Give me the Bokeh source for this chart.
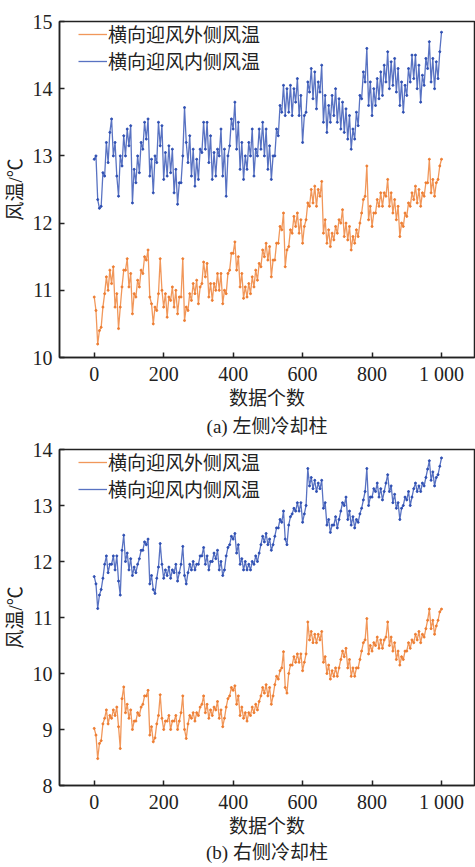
from bokeh.plotting import figure
from bokeh.models import Legend, LegendItem, Title, FixedTicker, Range1d
from bokeh.layouts import column
from bokeh.embed import file_html
from bokeh.resources import INLINE

# Values every 5 samples (band lows / highs), 0..1000
# ---- panel (a) 左侧冷却柱 ----
a_out = [10.9,10.7,10.2,10.4,10.45,10.75,10.95,11.2,11.0,11.3,11.1,11.35,10.75,10.95,10.43,10.75,11.05,11.3,11.3,11.47,
         11.05,11.25,10.65,10.95,10.9,11.15,11.05,11.3,11.25,11.5,11.45,11.6,10.9,10.8,10.5,10.75,10.7,10.95,11.47,11.0,
         10.75,10.95,10.6,10.9,10.85,11.05,10.75,11.0,10.65,10.9,10.9,11.47,10.55,10.75,10.7,10.95,10.85,11.1,10.95,11.15,
         10.8,11.05,11.1,11.42,11.2,11.4,10.9,11.1,10.85,11.1,11.0,11.25,11.0,11.25,10.8,11.0,10.95,11.25,11.3,11.55,
         11.55,11.72,11.3,11.5,11.05,11.25,10.88,11.05,10.9,11.1,10.95,11.2,11.05,11.3,11.15,11.4,11.35,11.6,11.5,11.7,
         11.45,11.65,11.2,11.45,11.45,11.7,11.7,11.95,11.9,12.15,11.35,11.6,11.65,11.9,11.85,12.1,11.95,12.15,11.85,12.05,
         11.7,11.95,12.05,12.3,12.25,12.5,12.3,12.55,12.25,12.5,12.4,12.62,11.85,12.05,11.7,11.9,11.65,11.85,11.75,11.95,
         11.85,12.05,12.0,12.2,11.8,12.0,11.75,11.95,11.6,11.8,11.7,11.9,11.8,12.0,12.15,12.35,12.4,12.85,12.05,12.25,
         11.95,12.15,12.15,12.35,12.25,12.45,12.25,12.45,12.4,12.65,12.25,12.45,12.15,12.35,12.05,12.25,11.8,12.0,11.95,12.15,
         12.1,12.3,12.25,12.45,12.35,12.55,12.3,12.5,12.25,12.45,12.4,12.6,12.6,12.95,12.45,12.65,12.4,12.6,12.65,12.85,
         12.95]
a_in = [12.95,13.0,12.35,12.22,12.25,12.75,12.7,13.2,12.9,13.35,13.55,13.0,13.2,12.7,12.4,13.0,12.85,13.3,13.0,13.4,
        13.15,13.45,12.3,12.8,12.6,13.0,12.75,13.2,13.1,13.5,13.25,13.55,12.7,12.95,12.45,13.0,12.9,13.5,13.15,13.45,
        12.65,13.05,12.7,13.15,12.75,13.1,12.45,12.8,12.28,12.6,12.6,13.0,13.72,13.2,12.9,13.3,12.7,13.1,12.55,12.95,
        12.65,13.1,13.05,13.5,13.1,13.5,12.9,13.3,12.65,13.05,12.7,13.1,13.0,13.4,12.7,13.1,12.4,13.0,13.15,13.55,
        13.4,13.8,13.1,13.5,12.8,13.2,12.65,13.0,12.8,13.2,13.0,13.4,12.7,13.1,13.0,13.4,13.1,13.5,13.0,13.4,
        12.8,13.15,12.65,13.0,13.0,13.4,13.3,13.75,13.65,14.05,13.6,14.0,13.65,14.05,13.6,14.0,13.8,14.15,13.6,13.9,
        13.2,13.6,13.65,14.1,13.95,14.3,13.85,14.25,13.7,14.1,13.95,14.35,13.5,13.9,13.35,13.75,13.5,13.9,13.6,14.0,
        13.5,13.85,13.4,13.8,13.35,13.7,13.25,13.6,13.1,13.4,13.25,13.65,13.45,13.9,13.85,14.25,14.1,14.6,13.75,14.1,
        13.6,14.0,13.75,14.15,13.85,14.25,13.9,14.35,14.1,14.55,14.0,14.4,14.05,14.45,13.95,14.3,13.75,14.1,13.65,14.05,
        13.9,14.3,14.1,14.5,14.15,14.5,14.0,14.35,13.8,14.2,14.05,14.45,14.3,14.7,14.1,14.45,14.0,14.4,14.15,14.55,
        14.84]

# ---- panel (b) 右侧冷却柱 ----
b_out = [9.02,8.9,8.48,8.75,8.8,9.1,9.2,9.35,9.1,9.25,9.2,9.35,9.25,9.4,9.05,8.66,9.55,9.76,9.3,9.45,
         9.2,9.35,9.0,9.15,9.15,9.3,9.25,9.4,9.45,9.6,9.6,9.7,8.9,9.05,8.78,8.85,9.1,9.25,9.62,9.2,
         9.0,9.15,9.15,9.25,9.0,9.15,9.15,9.25,9.0,9.15,9.3,9.6,9.0,8.84,9.1,9.25,9.2,9.3,9.15,9.3,
         9.25,9.4,9.45,9.6,9.3,9.45,9.2,9.35,9.25,9.4,9.35,9.5,9.2,9.35,9.05,9.2,9.4,9.55,9.6,9.75,
         9.7,9.78,9.45,9.6,9.25,9.4,9.2,9.3,9.15,9.3,9.25,9.4,9.3,9.45,9.35,9.5,9.6,9.75,9.65,9.8,
         9.6,9.75,9.45,9.6,9.8,9.95,9.9,10.05,10.1,10.39,9.75,9.65,10.0,10.15,10.15,10.3,10.2,10.35,10.2,10.35,
         10.05,10.2,10.35,10.92,10.6,10.75,10.55,10.7,10.55,10.7,10.6,10.75,10.2,10.3,10.0,10.15,9.9,10.05,9.95,10.1,
         9.95,10.1,10.25,10.4,10.3,10.45,10.1,10.25,9.95,10.1,9.95,10.1,10.1,10.25,10.4,10.55,10.6,10.98,10.35,10.5,
         10.4,10.55,10.5,10.65,10.45,10.6,10.45,10.6,10.65,10.92,10.5,10.65,10.4,10.55,10.25,10.4,10.15,10.3,10.25,10.4,
         10.4,10.55,10.45,10.6,10.55,10.7,10.6,10.75,10.55,10.7,10.65,10.8,10.95,11.15,10.8,10.95,10.7,10.85,10.95,11.1,
         11.15]
b_in = [11.73,11.6,11.16,11.4,11.5,11.7,11.95,12.1,11.8,11.95,11.95,12.1,11.85,12.1,11.65,11.4,12.2,12.47,12.0,12.15,
        11.85,12.05,11.75,11.9,11.8,11.95,12.05,12.2,12.2,12.35,12.3,12.4,11.6,11.75,11.5,11.43,11.7,11.9,12.32,11.95,
        11.7,11.85,11.75,11.9,11.7,11.85,11.8,11.95,11.65,11.8,11.95,12.27,11.75,11.6,11.8,11.95,11.85,12.0,11.85,11.95,
        11.95,12.1,12.1,12.25,11.95,12.1,11.85,12.0,12.0,12.15,12.05,12.2,11.85,12.0,11.75,11.85,12.1,12.25,12.3,12.45,
        12.4,12.5,12.15,12.3,11.95,12.05,11.85,12.0,11.85,11.95,11.85,12.0,11.95,12.1,12.0,12.15,12.3,12.45,12.35,12.5,
        12.3,12.4,12.2,12.3,12.45,12.6,12.6,12.75,12.7,12.9,12.4,12.3,12.65,12.8,12.85,12.95,12.9,13.05,12.9,13.05,
        12.7,12.85,13.0,13.66,13.35,13.5,13.3,13.45,13.25,13.4,13.3,13.45,12.95,13.05,12.65,12.75,12.52,12.65,12.65,12.8,
        12.6,12.75,12.9,13.05,13.0,13.15,12.75,12.9,12.65,12.8,12.6,12.75,12.7,12.85,12.95,13.1,13.25,13.66,13.0,13.15,
        13.15,13.3,13.25,13.4,13.15,13.3,13.1,13.25,13.4,13.55,13.25,13.35,13.05,13.2,12.95,13.05,12.75,12.95,13.0,13.15,
        13.1,13.25,13.0,13.15,13.3,13.4,13.25,13.35,13.25,13.4,13.35,13.5,13.65,13.8,13.45,13.6,13.35,13.5,13.55,13.7,
        13.85]

sample_step = 5
series_labels = ["横向迎风外侧风温", "横向迎风内侧风温"]
x_ticks = [0, 200, 400, 600, 800, 1000]
x_tick_labels = {0: "0", 200: "200", 400: "400", 600: "600", 800: "800", 1000: "1 000"}
a_y_ticks = [10, 11, 12, 13, 14, 15]
b_y_ticks = [8, 9, 10, 11, 12, 13, 14]

ORANGE = "#EE7D31"
BLUE = "#2E4FB3"
INK = "#222222"
SERIF = "Liberation Serif, Noto Sans CJK SC"


def make_panel(out_y, in_y, yr, yticks, caption, top, bottom, cap_standoff):
    p = figure(frame_width=415, frame_height=336, output_backend="svg", toolbar_location=None,
               x_range=Range1d(-100, 1095), y_range=Range1d(*yr),
               min_border_left=59, min_border_right=1,
               min_border_top=top, min_border_bottom=bottom)
    p.grid.visible = False
    p.outline_line_color = INK
    p.outline_line_width = 1.5
    xo = list(range(0, sample_step * len(out_y), sample_step))
    xi = list(range(0, sample_step * len(in_y), sample_step))
    lo = p.line(xo, out_y, line_color=ORANGE, line_width=1.3, line_alpha=0.8)
    p.scatter(xo, out_y, size=2, color=ORANGE)
    li = p.line(xi, in_y, line_color=BLUE, line_width=1.3, line_alpha=0.8)
    p.scatter(xi, in_y, size=2, color=BLUE)

    for ax in (p.xaxis[0], p.yaxis[0]):
        ax.axis_line_color = INK
        ax.axis_line_width = 1.5
        ax.major_tick_in = 5
        ax.major_tick_out = 0
        ax.minor_tick_in = 0
        ax.minor_tick_out = 0
        ax.major_tick_line_color = INK
        ax.major_tick_line_width = 1.5
        ax.major_label_text_font = SERIF
        ax.major_label_text_font_size = "20px"
        ax.major_label_text_color = INK
        ax.axis_label_text_font = SERIF
        ax.axis_label_text_font_size = "19px"
        ax.axis_label_text_font_style = "normal"
        ax.axis_label_text_color = INK
    p.xaxis.ticker = FixedTicker(ticks=x_ticks)
    p.xaxis.major_label_overrides = x_tick_labels
    p.yaxis.ticker = FixedTicker(ticks=yticks)
    p.xaxis.axis_label = "数据个数"
    p.yaxis.axis_label = "风温/℃"
    p.xaxis.major_label_standoff = 5
    p.yaxis.major_label_standoff = 7
    p.xaxis.axis_label_standoff = 0
    p.yaxis.axis_label_standoff = 4

    leg = Legend(items=[LegendItem(label=series_labels[0], renderers=[lo]),
                        LegendItem(label=series_labels[1], renderers=[li])],
                 location=(19, 283), margin=0, padding=0, spacing=-7,
                 border_line_color=None, background_fill_alpha=0,
                 label_text_font=SERIF, label_text_font_size="19px",
                 label_text_color=INK, glyph_width=29, glyph_height=20,
                 label_height=20, label_standoff=1)
    p.add_layout(leg)
    t = Title(text=caption, align="center", text_font=SERIF, text_font_size="19px",
              text_font_style="normal", text_color=INK, standoff=cap_standoff)
    p.add_layout(t, "below")
    return p


pa = make_panel(a_out, a_in, (10, 15), a_y_ticks, "(a) 左侧冷却柱", 21, 83, 5)
pb = make_panel(b_out, b_in, (8, 14), b_y_ticks, "(b) 右侧冷却柱", 9, 82, 1)
layout = column(pa, pb, spacing=0)
open("out.html", "w").write(file_html(layout, INLINE))
